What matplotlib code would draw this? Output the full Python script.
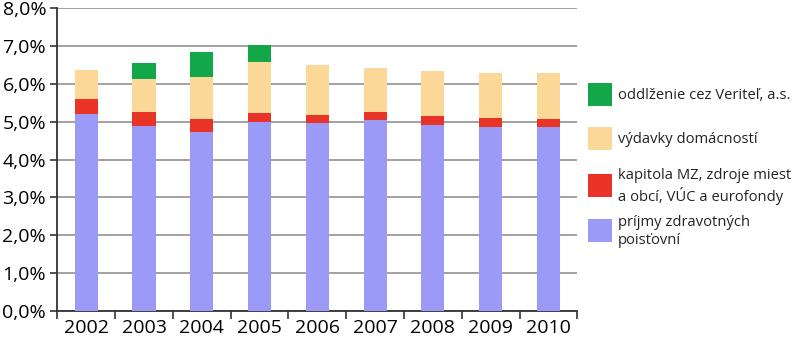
import matplotlib
matplotlib.use("Agg")
import matplotlib.pyplot as plt
import numpy as np
from matplotlib.ticker import FuncFormatter, FixedLocator
from matplotlib.patches import Rectangle

years = ["2002", "2003", "2004", "2005", "2006", "2007", "2008", "2009", "2010"]
prijmy = [5.20, 4.88, 4.72, 4.99, 4.96, 5.04, 4.90, 4.87, 4.87]
kapitola = [0.41, 0.39, 0.36, 0.24, 0.23, 0.21, 0.24, 0.23, 0.20]
vydavky = [0.77, 0.85, 1.11, 1.34, 1.31, 1.17, 1.19, 1.19, 1.22]
oddlzenie = [0.0, 0.44, 0.65, 0.45, 0.0, 0.0, 0.0, 0.0, 0.0]

labels = ["príjmy zdravotných\npoisťovní",
          "kapitola MZ, zdroje miest\na obcí, VÚC a eurofondy",
          "výdavky domácností",
          "oddlženie cez Veriteľ, a.s."]
colors = ["#9b9bf7", "#ea3327", "#fcd898", "#12a84a"]

plt.rcParams['font.family'] = ['Open Sans', 'DejaVu Sans']

W, H = 800, 344
fig = plt.figure(figsize=(W / 100, H / 100), dpi=100)
ax = fig.add_axes([0.0716, 0.0968, 0.650, 0.879])

x = np.arange(len(years))
series = [prijmy, kapitola, vydavky, oddlzenie]
bottom = np.zeros(len(years))
for vals, col, lab in zip(series, colors, labels):
    v = np.array(vals)
    ax.bar(x, v, bottom=bottom, width=0.4, color=col, zorder=3, linewidth=0, label=lab)
    bottom += v

ax.set_xlim(-0.5, len(years) - 0.5)
ax.set_ylim(0, 8)
ax.yaxis.set_major_locator(FixedLocator(np.arange(0, 8.01, 1)))
ax.yaxis.set_major_formatter(FuncFormatter(lambda v, p: f"{v:.1f}%".replace(".", ",")))
ax.grid(axis='y', color='#9a9a9a', linewidth=1.3, zorder=0)
ax.set_xticks(x)
ax.set_xticklabels(years)
ax.set_xticks(np.arange(-0.5, len(years), 1), minor=True)
ax.tick_params(axis='x', which='major', length=0, labelsize=14, pad=6)
ax.tick_params(axis='x', which='minor', length=6, width=1.2, color='#333333')
ax.tick_params(axis='y', length=5, width=1.2, color='#333333', labelsize=14, pad=3)
for s in ['top', 'right']:
    ax.spines[s].set_visible(False)
for s in ['left', 'bottom']:
    ax.spines[s].set_color('#333333')
    ax.spines[s].set_linewidth(1.3)

# Legend (manual layout, top to bottom: reversed series order)
centers_px = [230.5, 185.5, 138.5, 94.0]  # vertical centres of entries, in pixels from top
sq_w, sq_h = 24, 23
sq_x = 588
txt_x = 618
for col, lab, cy in zip(colors, labels, centers_px):
    fig.add_artist(Rectangle(((sq_x) / W, 1 - (cy + sq_h / 2) / H), sq_w / W, sq_h / H,
                             transform=fig.transFigure, facecolor=col, edgecolor='none'))
    fig.text(txt_x / W, 1 - (cy + 1) / H, lab, fontsize=10.6, va='center', ha='left',
             linespacing=1.35, color='#222222')

fig.savefig("out.png", dpi=100)
